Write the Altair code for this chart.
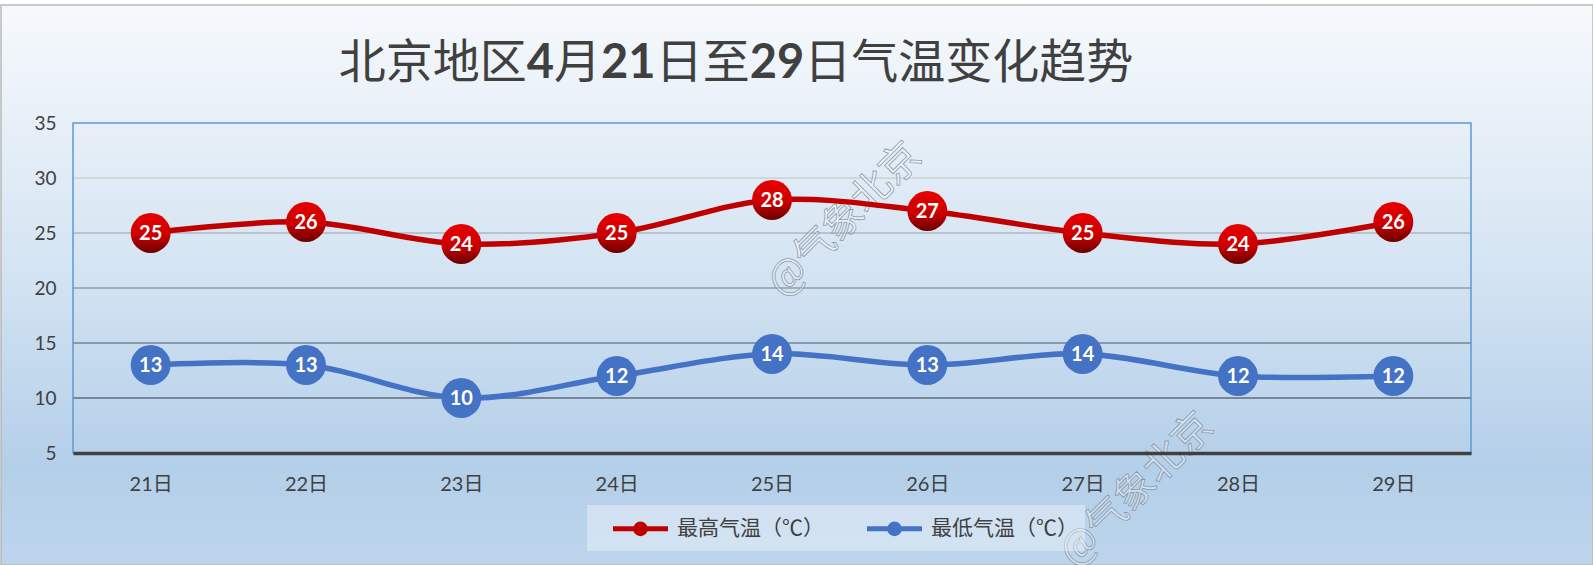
import altair as alt
import pandas as pd

# ---------------- data ----------------
days = ["21日", "22日", "23日", "24日", "25日", "26日", "27日", "28日", "29日"]
high = [25, 26, 24, 25, 28, 27, 25, 24, 26]
low = [13, 13, 10, 12, 14, 13, 14, 12, 12]
series_names = ["最高气温（℃）", "最低气温（℃）"]
y_ticks = [5, 10, 15, 20, 25, 30, 35]
grid_values = [10, 15, 20, 25, 30]
title_parts = ["北京地区", "4", "月", "21", "日至", "29", "日气温变化趋势"]
watermark_text = "@气象北京"

# ---------------- layout ----------------
W, H = 1398, 330
PAD_L, PAD_T = 73, 123
PAD_R = 1593 - PAD_L - W
PAD_B = 565 - PAD_T - H

NUM_FONT = 'Lato, "Noto Sans CJK SC", sans-serif'
CJK_FONT = '"Noto Sans CJK SC", sans-serif'
RED = "#c00000"
BLUE = "#4472c4"
TXT = "#404040"
TITLE_SIZE = 47

df = pd.DataFrame({
    "day": days * 2,
    "value": high + low,
    "series": [series_names[0]] * len(days) + [series_names[1]] * len(days),
})
df_grid = pd.DataFrame({"g": grid_values})
one = pd.DataFrame({"k": [0]})

# title split in runs: CJK runs regular, digit runs bold (as in the original)
is_num = [p.isdigit() for p in title_parts]
widths = [len(p) * TITLE_SIZE * (0.58 if n else 1.0) for p, n in zip(title_parts, is_num)]
title_center = W / 2 - 36
start = title_center - sum(widths) / 2
lefts = []
for w in widths:
    lefts.append(start)
    start += w
df_title = pd.DataFrame({"part": title_parts, "px": lefts, "num": is_num})

x_enc = alt.X(
    "day:N", sort=days,
    scale=alt.Scale(type="point", padding=0.5),
    axis=alt.Axis(
        title=None, labelAngle=0, ticks=False, tickSize=0, labelPadding=21,
        labelFontSize=20, labelFont=NUM_FONT, labelColor=TXT,
        domain=True, domainColor="#404040", domainWidth=3.5, grid=False, zindex=1,
    ),
)
y_enc = alt.Y(
    "value:Q",
    scale=alt.Scale(domain=[5, 35], nice=False, zero=False),
    axis=alt.Axis(
        title=None, values=y_ticks, ticks=False, tickSize=0, labelPadding=17,
        labelFontSize=19, labelFont=NUM_FONT, labelColor=TXT,
        domain=False, grid=False, zindex=1,
    ),
)

# background gradient covering the whole canvas
bg = alt.Chart(one).mark_rect(
    fill=alt.LinearGradient(
        gradient="linear", x1=0, y1=0, x2=0, y2=1,
        stops=[
            alt.GradientStop(offset=0, color="#f6f9fc"),
            alt.GradientStop(offset=0.45, color="#d6e5f3"),
            alt.GradientStop(offset=0.82, color="#b4cfe9"),
            alt.GradientStop(offset=1, color="#bcd5ec"),
        ],
    ),
    stroke="#b8b8b8", strokeWidth=1.5,
).encode(
    x=alt.value(-PAD_L + 1), x2=alt.value(W + PAD_R),
    y=alt.value(-PAD_T + 5), y2=alt.value(H + PAD_B),
)

grid = alt.Chart(df_grid).mark_rule(strokeWidth=2).encode(
    y=alt.Y("g:Q"),
    stroke=alt.Stroke(
        "g:Q",
        scale=alt.Scale(domain=[10, 30], range=["#75869a", "#d2d7dc"]),
        legend=None,
    ),
)

border = alt.Chart(one).mark_rect(
    fill="transparent", stroke="#5b9bd5", strokeWidth=1.5
).encode(x=alt.value(0), x2=alt.value(W), y=alt.value(0), y2=alt.value(H))

title_cjk = alt.Chart(df_title).transform_filter("!datum.num").mark_text(
    fontSize=TITLE_SIZE, font=CJK_FONT, color=TXT,
    align="left", baseline="alphabetic",
).encode(x=alt.X("px:Q", scale=None), y=alt.value(-45), text="part:N")
title_num = alt.Chart(df_title).transform_filter("datum.num").mark_text(
    fontSize=TITLE_SIZE, font=NUM_FONT, fontWeight="bold", color=TXT,
    align="left", baseline="alphabetic",
).encode(x=alt.X("px:Q", scale=None), y=alt.value(-45), text="part:N")

wm_style = dict(
    text=watermark_text, angle=315, fontSize=40, font=CJK_FONT,
    fill="white", fillOpacity=0.35, stroke="#7d8b99", strokeWidth=0.8, strokeOpacity=0.85,
    align="center", baseline="middle",
)
wm1 = alt.Chart(one).mark_text(**wm_style).encode(x=alt.value(772), y=alt.value(97))
wm2 = alt.Chart(one).mark_text(**wm_style).encode(x=alt.value(1064), y=alt.value(367))

legend_path = "M-2,0L2,0M-0.35,0A0.35,0.35,0,1,1,0.35,0A0.35,0.35,0,1,1,-0.35,0Z"

lines = alt.Chart(df).mark_line(
    interpolate="catmull-rom", strokeWidth=5.5, strokeCap="round"
).encode(
    x=x_enc, y=y_enc,
    color=alt.Color(
        "series:N",
        scale=alt.Scale(domain=series_names, range=[RED, BLUE]),
        sort=series_names,
        legend=alt.Legend(
            title=None, orient="none", legendX=514, legendY=382,
            direction="horizontal", symbolType=legend_path, symbolSize=756,
            symbolStrokeWidth=5, symbolOffset=30, labelOffset=20,
            labelFontSize=21, labelFont=CJK_FONT, labelColor=TXT,
            fillColor="rgba(255,255,255,0.35)", padding=7, columnPadding=24,
        ),
    ),
)

red_pts = alt.Chart(df).transform_filter(
    alt.datum.series == series_names[0]
).mark_circle(
    size=1590, opacity=1,
    fill=alt.LinearGradient(
        gradient="linear", x1=0, y1=0, x2=0, y2=1,
        stops=[
            alt.GradientStop(offset=0, color="#e80000"),
            alt.GradientStop(offset=0.55, color="#cc0000"),
            alt.GradientStop(offset=1, color="#6a0000"),
        ],
    ),
).encode(x=x_enc, y=y_enc)

blue_pts = alt.Chart(df).transform_filter(
    alt.datum.series == series_names[1]
).mark_circle(size=1590, opacity=1, color=BLUE).encode(x=x_enc, y=y_enc)

labels = alt.Chart(df).mark_text(
    color="white", fontWeight="bold", fontSize=20, font=NUM_FONT,
    align="center", baseline="middle", dy=1,
).encode(x=x_enc, y=y_enc, text=alt.Text("value:Q"))

chart = alt.layer(
    bg, grid, wm1, wm2, title_cjk, title_num, lines, red_pts, blue_pts, labels, border
).resolve_scale(
    color="independent", x="shared"
).properties(
    width=W, height=H,
    autosize=alt.AutoSizeParams(type="none"),
    padding={"left": PAD_L, "top": PAD_T, "right": PAD_R, "bottom": PAD_B},
    background="white",
).configure_view(stroke=None)

chart.save("out.html", embed_options={"renderer": "svg", "actions": False})
